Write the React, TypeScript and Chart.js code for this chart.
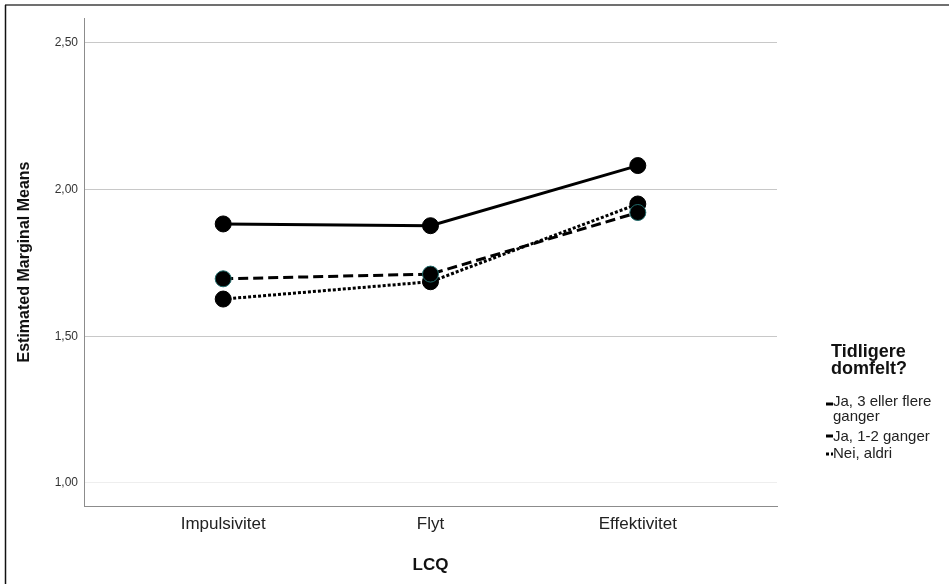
import React, { useEffect, useRef } from "react";
import { Chart, registerables } from "chart.js";

Chart.register(...registerables);

const categories = ["Impulsivitet", "Flyt", "Effektivitet"];
const ja3 = [1.883, 1.877, 2.082];
const ja12 = [1.696, 1.712, 1.922];
const nei = [1.627, 1.686, 1.951];
const yTicks = [1.0, 1.5, 2.0, 2.5];
const legendTitle = ["Tidligere", "domfelt?"];
const legendLabels = [["Ja, 3 eller flere", "ganger"], ["Ja, 1-2 ganger"], ["Nei, aldri"]];
const yTitle = "Estimated Marginal Means";
const xTitle = "LCQ";

const FONT = "'Liberation Sans', Arial, sans-serif";

const toPoints = (arr: number[]) => arr.map((v, i) => ({ x: i, y: v }));

const dashes: number[][] = [[], [10, 5], [3, 2]];

const framePlugin = {
  id: "frameAndLegend",
  beforeDraw(chart: any) {
    const ctx = chart.ctx;
    ctx.save();
    ctx.fillStyle = "#ffffff";
    ctx.fillRect(0, 0, chart.width, chart.height);
    ctx.strokeStyle = "#707070";
    ctx.lineWidth = 2;
    ctx.beginPath();
    ctx.moveTo(5, 5);
    ctx.lineTo(chart.width, 5);
    ctx.stroke();
    ctx.strokeStyle = "#111111";
    ctx.lineWidth = 1.5;
    ctx.beginPath();
    ctx.moveTo(5.5, 5);
    ctx.lineTo(5.5, chart.height);
    ctx.stroke();
    ctx.restore();
  },
  afterDraw(chart: any) {
    const ctx = chart.ctx;
    ctx.save();
    ctx.fillStyle = "#111111";
    ctx.textBaseline = "alphabetic";
    ctx.textAlign = "left";
    ctx.font = `bold 18px ${FONT}`;
    ctx.fillText(legendTitle[0], 831, 357);
    ctx.fillText(legendTitle[1], 831, 374);
    ctx.font = `15px ${FONT}`;
    ctx.fillStyle = "#222222";
    const baselines = [[406, 421], [441], [458]];
    const lineY = [404, 436, 454];
    legendLabels.forEach((lines, i) => {
      ctx.save();
      ctx.strokeStyle = "#000000";
      ctx.lineWidth = 3;
      ctx.setLineDash(dashes[i]);
      ctx.beginPath();
      ctx.moveTo(826, lineY[i]);
      ctx.lineTo(833, lineY[i]);
      ctx.stroke();
      ctx.restore();
      lines.forEach((t, j) => ctx.fillText(t, 833, baselines[i][j]));
    });
    ctx.restore();
  },
};

export default function App() {
  const ref = useRef<HTMLCanvasElement | null>(null);
  useEffect(() => {
    if (!ref.current) return;
    const mk = (label: string, data: number[], i: number) => ({
      label,
      data: toPoints(data),
      borderColor: "#000000",
      borderWidth: 3,
      borderDash: dashes[i],
      pointRadius: 8,
      pointBackgroundColor: "#000000",
      pointBorderColor: i === 1 ? "#1f6a6a" : "#000000",
      pointBorderWidth: 1,
      fill: false,
      tension: 0,
    });
    const chart = new Chart(ref.current, {
      type: "line",
      data: {
        datasets: [
          mk(legendLabels[0].join(" "), ja3, 0),
          mk(legendLabels[1].join(" "), ja12, 1),
          mk(legendLabels[2].join(" "), nei, 2),
        ],
      },
      options: {
        responsive: false,
        animation: false,
        devicePixelRatio: 1,
        layout: { padding: { top: 18, right: 172, bottom: 0, left: 0 } },
        plugins: { legend: { display: false }, tooltip: { enabled: false } },
        scales: {
          x: {
            type: "linear",
            min: -0.6715,
            max: 2.6715,
            afterBuildTicks: (s: any) => {
              s.ticks = categories.map((_, i) => ({ value: i }));
            },
            afterFit: (s: any) => {
              s.height = 78;
            },
            ticks: {
              callback: (v: any) => categories[Number(v)] ?? "",
              font: { family: FONT, size: 17 },
              color: "#222222",
              padding: 8,
              maxRotation: 0,
              autoSkip: false,
            },
            grid: { display: false, drawTicks: false },
            border: { display: true, color: "#8c8c8c", width: 1 },
            title: {
              display: true,
              text: xTitle,
              font: { family: FONT, size: 17, weight: "bold" },
              color: "#111111",
              padding: { top: 0, bottom: 8 },
            },
          },
          y: {
            type: "linear",
            min: 0.9216,
            max: 2.585,
            afterBuildTicks: (s: any) => {
              s.ticks = yTicks.map((v) => ({ value: v }));
            },
            afterFit: (s: any) => {
              s.width = 84;
            },
            ticks: {
              callback: (v: any) => Number(v).toFixed(2).replace(".", ","),
              font: { family: FONT, size: 12 },
              color: "#333333",
              padding: 6,
            },
            grid: {
              drawTicks: false,
              color: (c: any) => (c.tick && c.tick.value === 1 ? "#eeeeee" : "#c8c8c8"),
              lineWidth: 1,
            },
            border: { display: true, color: "#8c8c8c", width: 1 },
            title: {
              display: true,
              text: yTitle,
              font: { family: FONT, size: 16, weight: "bold" },
              color: "#111111",
              padding: { top: 15, bottom: 0 },
            },
          },
        },
      },
      plugins: [framePlugin],
    });
    return () => chart.destroy();
  }, []);
  return (
    <div style={{ position: "fixed", left: 0, top: 0, width: 949, height: 584, background: "#fff" }}>
      <canvas ref={ref} width={949} height={584} />
    </div>
  );
}
